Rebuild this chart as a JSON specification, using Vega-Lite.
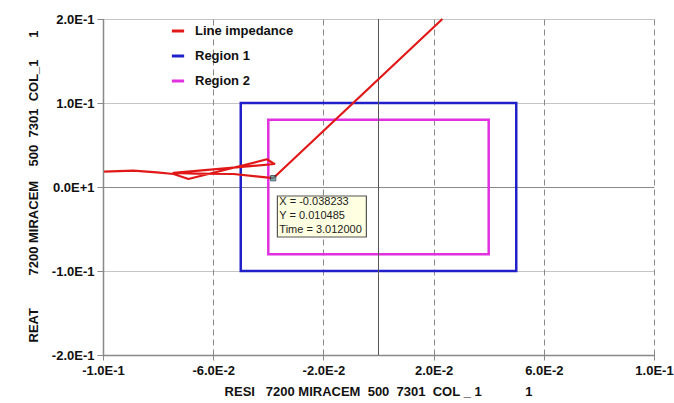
{
  "$schema": "https://vega.github.io/schema/vega-lite/v6.json",
  "width": 551,
  "height": 336,
  "autosize": "none",
  "padding": {"left": 103, "top": 19, "right": 20, "bottom": 48},
  "background": "white",
  "config": {
    "font": "Liberation Sans",
    "view": {"stroke": null},
    "axis": {
      "labelFont": "Liberation Sans",
      "labelFontSize": 13,
      "labelFontWeight": "bold",
      "labelColor": "#111111",
      "titleFont": "Liberation Sans",
      "titleFontSize": 13,
      "titleFontWeight": "bold",
      "titleColor": "#111111",
      "domainColor": "#888888",
      "domainWidth": 1.5,
      "tickColor": "#888888",
      "gridColor": "#8a8a8a",
      "gridWidth": 1,
      "labelFlush": false,
      "labelOverlap": false,
      "labelBound": false
    }
  },
  "datasets": {
    "regions": [
      {"series": "Region 1", "x": -0.05, "x2": 0.05, "y": -0.1, "y2": 0.1},
      {"series": "Region 2", "x": -0.04, "x2": 0.04, "y": -0.08, "y2": 0.08}
    ],
    "impedance": [
      {"series": "Line impedance", "t": 1, "x": -0.0996, "y": 0.0182},
      {"series": "Line impedance", "t": 2, "x": -0.089, "y": 0.0194},
      {"series": "Line impedance", "t": 3, "x": -0.0805, "y": 0.0175},
      {"series": "Line impedance", "t": 4, "x": -0.0744, "y": 0.0155},
      {"series": "Line impedance", "t": 5, "x": -0.069, "y": 0.0095},
      {"series": "Line impedance", "t": 6, "x": -0.0405, "y": 0.033},
      {"series": "Line impedance", "t": 7, "x": -0.0378, "y": 0.0274},
      {"series": "Line impedance", "t": 8, "x": -0.0744, "y": 0.0168},
      {"series": "Line impedance", "t": 9, "x": -0.066, "y": 0.016},
      {"series": "Line impedance", "t": 10, "x": -0.0526, "y": 0.0155},
      {"series": "Line impedance", "t": 11, "x": -0.038233, "y": 0.010485},
      {"series": "Line impedance", "t": 12, "x": 0.0232, "y": 0.2}
    ],
    "zeroline": [{"x": 0}],
    "marker": [{"x": -0.038233, "y": 0.010485}],
    "tipbox": [{"x": -0.0367, "x2": -0.0044, "y": -0.0107, "y2": -0.0595}],
    "tiptext": [
      {"label": "X = -0.038233", "x": -0.0360, "y": -0.0179},
      {"label": "Y = 0.010485", "x": -0.0360, "y": -0.0345},
      {"label": "Time = 3.012000", "x": -0.0360, "y": -0.0512}
    ]
  },
  "layer": [
    {
      "data": {"name": "regions"},
      "mark": {"type": "rect", "filled": false, "strokeWidth": 2.5},
      "encoding": {
        "x": {
          "field": "x", "type": "quantitative",
          "scale": {"domain": [-0.1, 0.1], "nice": false, "zero": false},
          "axis": {
            "values": [-0.1, -0.06, -0.02, 0.02, 0.06, 0.1],
            "grid": true,
            "gridDash": [6, 4],
            "tickSize": 5,
            "labelPadding": 4,
            "labelExpr": "replace(replace(format(datum.value, '.1e'), 'e', 'E'), '\u2212', '-')",
            "title": "RESI\u00a0\u00a0\u00a07200\u00a0MIRACEM\u00a0\u00a0500\u00a0\u00a07301\u00a0\u00a0COL\u00a0_\u00a01\u00a0\u00a0\u00a0\u00a0\u00a0\u00a0\u00a0\u00a0\u00a0\u00a0\u00a0\u00a01",
            "titleX": 275,
            "titleY": 36,
            "titleAlign": "center",
            "titleBaseline": "middle"
          }
        },
        "x2": {"field": "x2"},
        "y": {
          "field": "y", "type": "quantitative",
          "scale": {"domain": [-0.2, 0.2], "nice": false, "zero": false},
          "axis": {
            "values": [-0.2, -0.1, 0, 0.1, 0.2],
            "grid": true,
            "gridDash": {"condition": {"test": "abs(datum.value) < 0.000001", "value": []}, "value": [1, 1]},
            "tickSize": 6,
            "labelPadding": 3,
            "labelExpr": "datum.value == 0 ? '0.0E+1' : replace(replace(format(datum.value, '.1e'), 'e', 'E'), '\u2212', '-')",
            "title": "REAT\u00a0\u00a0\u00a0\u00a0\u00a0\u00a0\u00a0\u00a0\u00a07200\u00a0MIRACEM\u00a0\u00a0\u00a0\u00a0500\u00a0\u00a07301\u00a0\u00a0COL_1\u00a0\u00a0\u00a0\u00a0\u00a0\u00a01",
            "titleX": -70,
            "titleY": 167,
            "titleAngle": 270,
            "titleAlign": "center",
            "titleBaseline": "middle"
          }
        },
        "y2": {"field": "y2"},
        "color": {
          "field": "series", "type": "nominal",
          "scale": {"domain": ["Line impedance", "Region 1", "Region 2"], "range": ["#e01818", "#2020c8", "#e030e0"]},
          "legend": {
            "title": null,
            "orient": "none",
            "legendX": 67,
            "legendY": 4,
            "padding": 0,
            "symbolType": "stroke",
            "symbolSize": 150,
            "symbolStrokeWidth": 3,
            "labelFont": "Liberation Sans",
            "labelFontSize": 13,
            "labelFontWeight": "bold",
            "labelColor": "#111111",
            "labelOffset": 9,
            "rowPadding": 10
          }
        }
      }
    },
    {
      "data": {"name": "zeroline"},
      "mark": {"type": "rule", "color": "#555555", "strokeWidth": 1},
      "encoding": {"x": {"field": "x", "type": "quantitative"}}
    },
    {
      "data": {"name": "impedance"},
      "mark": {"type": "line", "strokeWidth": 2.2, "strokeJoin": "round"},
      "encoding": {
        "x": {"field": "x", "type": "quantitative"},
        "y": {"field": "y", "type": "quantitative"},
        "order": {"field": "t", "type": "quantitative"},
        "color": {"field": "series", "type": "nominal"}
      }
    },
    {
      "data": {"name": "marker"},
      "mark": {"type": "point", "shape": "square", "filled": true, "size": 28, "color": "#3a9a9a", "stroke": "#112233", "strokeWidth": 1},
      "encoding": {
        "x": {"field": "x", "type": "quantitative"},
        "y": {"field": "y", "type": "quantitative"}
      }
    },
    {
      "data": {"name": "tipbox"},
      "mark": {"type": "rect", "fill": "#ffffe1", "stroke": "#555555", "strokeWidth": 1.2},
      "encoding": {
        "x": {"field": "x", "type": "quantitative"},
        "x2": {"field": "x2"},
        "y": {"field": "y", "type": "quantitative"},
        "y2": {"field": "y2"}
      }
    },
    {
      "data": {"name": "tiptext"},
      "mark": {"type": "text", "align": "left", "baseline": "middle", "fontSize": 11, "font": "Liberation Sans", "color": "#222222"},
      "encoding": {
        "x": {"field": "x", "type": "quantitative"},
        "y": {"field": "y", "type": "quantitative"},
        "text": {"field": "label"}
      }
    }
  ]
}
